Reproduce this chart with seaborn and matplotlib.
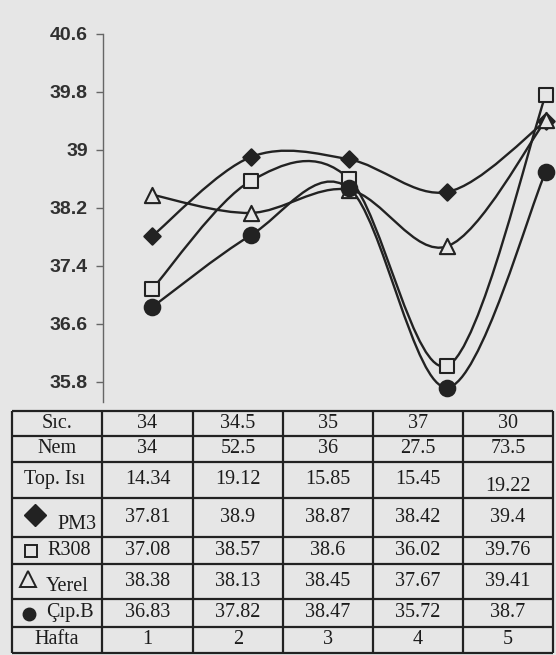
import numpy as np
import pandas as pd
import matplotlib
matplotlib.use("Agg")
import matplotlib.pyplot as plt
from matplotlib.path import Path
from matplotlib.patches import PathPatch
import seaborn as sns

weeks = [1, 2, 3, 4, 5]
sic = [34, 34.5, 35, 37, 30]
nem = [34, 52.5, 36, 27.5, 73.5]
top_isi = [14.34, 19.12, 15.85, 15.45, 19.22]
pm3 = [37.81, 38.9, 38.87, 38.42, 39.4]
r308 = [37.08, 38.57, 38.6, 36.02, 39.76]
yerel = [38.38, 38.13, 38.45, 37.67, 39.41]
cipb = [36.83, 37.82, 38.47, 35.72, 38.7]
yticks = [35.8, 36.6, 37.4, 38.2, 39.0, 39.8, 40.6]
ytick_labels = ["35.8", "36.6", "37.4", "38.2", "39", "39.8", "40.6"]

sns.set_theme(style="white")
plt.rcParams['font.family'] = ['Liberation Sans', 'DejaVu Sans']

paper = '#e6e6e6'
ink = '#222222'

fig = plt.figure(figsize=(5.56, 6.55), dpi=100, facecolor=paper)

# chart area (pixel layout from the reference)
W, H = 556, 655
ax = fig.add_axes([103 / W, 1 - 402 / H, 492 / W, 368 / H])
ax.set_facecolor('none')


def smooth_path(xs, ys):
    # Excel-like smoothed line: Catmull-Rom as cubic bezier segments
    pts = np.column_stack([xs, ys]).astype(float)
    n = len(pts)
    verts = [pts[0]]
    codes = [Path.MOVETO]
    for i in range(n - 1):
        p0 = pts[max(i - 1, 0)]
        p1 = pts[i]
        p2 = pts[i + 1]
        p3 = pts[min(i + 2, n - 1)]
        verts += [p1 + (p2 - p0) / 6, p2 - (p3 - p1) / 6, p2]
        codes += [Path.CURVE4] * 3
    return Path(verts, codes)


series = [
    ("PM3", pm3, 'D', 70, True),
    ("R308", r308, 's', 110, False),
    ("Yerel", yerel, '^', 120, False),
    ("Çıp.B", cipb, 'o', 125, True),
]

for name, vals, mk, size, filled in series:
    ax.add_patch(PathPatch(smooth_path(weeks, vals), facecolor='none',
                           edgecolor=ink, lw=1.7, zorder=2))
for name, vals, mk, size, filled in series:
    sns.scatterplot(x=weeks, y=vals, marker=mk, s=size, ax=ax, zorder=3,
                    color=ink, edgecolor=ink, linewidth=1.5, clip_on=False)
    coll = ax.collections[-1]
    coll.set_facecolor(ink if filled else paper)
    coll.set_edgecolor(ink)

ax.set_xlim(0.5, 5.5)
ax.set_ylim(35.52, 40.6)
ax.set_yticks(yticks)
ax.set_yticklabels(ytick_labels, fontsize=14, color='#303030', fontweight='bold')
ax.set_xticks([])
for s in ['top', 'right', 'bottom']:
    ax.spines[s].set_visible(False)
ax.spines['left'].set_color('#666666')
ax.spines['left'].set_linewidth(1.0)
ax.tick_params(axis='y', left=True, length=5, width=1.0, color='#666666', pad=6)

# table below the chart
tax = fig.add_axes([0, 0, 1, 1])
tax.set_xlim(0, W)
tax.set_ylim(H, 0)
tax.axis('off')

col_edges = [12, 102, 193, 283, 373, 463, 553]
row_edges = [410.7, 436, 461.7, 497.7, 536.7, 564.3, 599, 626.7, 653.3]

tax.hlines(row_edges, col_edges[0], col_edges[-1], color=ink, lw=1.6)
tax.vlines(col_edges, row_edges[0], row_edges[-1], color=ink, lw=1.6)

rows = [sic, nem, top_isi, pm3, r308, yerel, cipb, weeks]
col_cx = [(col_edges[i] + col_edges[i + 1]) / 2 for i in range(1, 6)]
serif = ['Liberation Serif', 'DejaVu Serif']
tfs = 14.5
tcol = '#1c1c1c'

for r, vals in enumerate(rows):
    cy = (row_edges[r] + row_edges[r + 1]) / 2
    for c, v in enumerate(vals):
        dy = 0
        if r == 2 and c == 4:
            dy = 7
        tax.text(col_cx[c], cy + dy, f"{v:g}", ha='center', va='center',
                 family=serif, fontsize=tfs, color=tcol)

# row labels
lab_cx = (col_edges[0] + col_edges[1]) / 2


def row_mid(r):
    return (row_edges[r] + row_edges[r + 1]) / 2


tax.text(lab_cx, row_mid(0), "Sıc.", ha='center', va='center', family=serif,
         fontsize=tfs, color=tcol)
tax.text(lab_cx, row_mid(1), "Nem", ha='center', va='center', family=serif,
         fontsize=tfs, color=tcol)
tax.text(lab_cx - 2, row_mid(2), "Top. Isı", ha='center', va='center', family=serif,
         fontsize=tfs, color=tcol)
tax.text(77, row_mid(3) + 7, "PM3", ha='center', va='center', family=serif,
         fontsize=tfs, color=tcol)
tax.text(69, row_mid(4), "R308", ha='center', va='center', family=serif,
         fontsize=tfs, color=tcol)
tax.text(67, row_mid(5) + 5, "Yerel", ha='center', va='center', family=serif,
         fontsize=tfs, color=tcol)
tax.text(70, row_mid(6), "Çıp.B", ha='center', va='center', family=serif,
         fontsize=tfs, color=tcol)
tax.text(lab_cx, row_mid(7), "Hafta", ha='center', va='center', family=serif,
         fontsize=tfs, color=tcol)

tax.plot([35], [row_mid(3) - 2], marker='D', ms=11, color=ink, linestyle='none')
tax.plot([31], [row_mid(4)], marker='s', ms=8.5, mfc='none', mec=ink, mew=1.4,
         linestyle='none')
tax.plot([28], [row_mid(5) - 3], marker='^', ms=11, mfc='none', mec=ink, mew=1.4,
         linestyle='none')
tax.plot([29], [row_mid(6) + 1], marker='o', ms=9, color=ink, linestyle='none')

fig.savefig("out.png", dpi=100, facecolor=paper)
